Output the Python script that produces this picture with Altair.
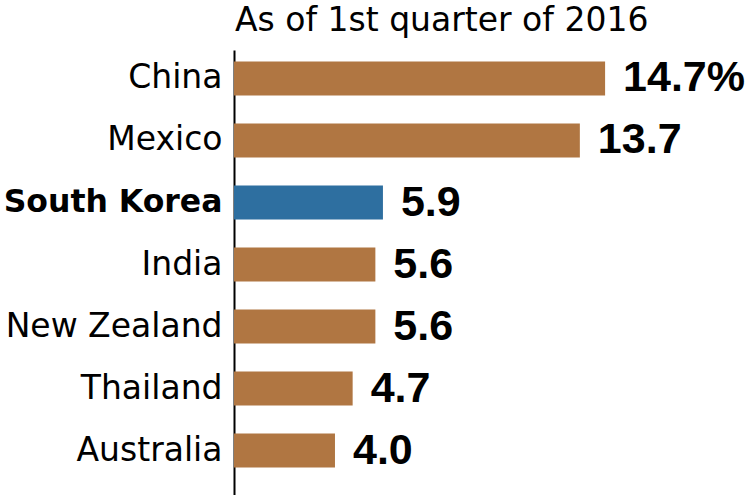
import altair as alt
import pandas as pd

countries = ["China", "Mexico", "South Korea", "India", "New Zealand", "Thailand", "Australia"]
values = [14.7, 13.7, 5.9, 5.6, 5.6, 4.7, 4.0]
value_labels = ["14.7%", "13.7", "5.9", "5.6", "5.6", "4.7", "4.0"]
highlight = "South Korea"
title_text = "As of 1st quarter of 2016"

BROWN = "#B07642"
BLUE = "#2E6FA0"

df = pd.DataFrame({"country": countries, "value": values, "label": value_labels})
title_df = pd.DataFrame({"t": [title_text]})

y_enc = alt.Y(
    "country:N",
    sort=countries,
    title=None,
    scale=alt.Scale(paddingInner=0.452, paddingOuter=0.3145, align=0.295),
    axis=alt.Axis(
        domainColor="black",
        domainWidth=2,
        ticks=False,
        grid=False,
        labelPadding=12,
        labelFont="DejaVu Sans",
        labelFontSize={"condition": {"test": f"datum.value == '{highlight}'", "value": 31.5}, "value": 33},
        labelFontWeight={"condition": {"test": f"datum.value == '{highlight}'", "value": "bold"}, "value": "normal"},
        labelColor="black",
        labelLimit=400,
    ),
)
x_enc = alt.X("value:Q", scale=alt.Scale(domain=[0, 20.44], nice=False, zero=True), axis=None)

base = alt.Chart(df).encode(y=y_enc, x=x_enc)

bars = base.mark_bar().encode(
    color=alt.condition(alt.datum.country == highlight, alt.value(BLUE), alt.value(BROWN))
)

texts = base.mark_text(
    align="left", baseline="middle", dx=18, font="Liberation Sans",
    fontWeight="bold", fontSize=43, color="black"
).encode(text="label:N")

title = alt.Chart(title_df).mark_text(
    align="left", baseline="alphabetic", font="DejaVu Sans",
    fontSize=33, color="black"
).encode(text="t:N", x=alt.value(1), y=alt.value(-19))

chart = (
    alt.layer(bars, texts, title)
    .properties(
        width=516,
        height=445,
        autosize="none",
        padding={"left": 234, "top": 50, "right": 0, "bottom": 0},
    )
    .configure_view(stroke=None)
)

chart.save("out.html", embed_options={"renderer": "svg", "actions": False})
